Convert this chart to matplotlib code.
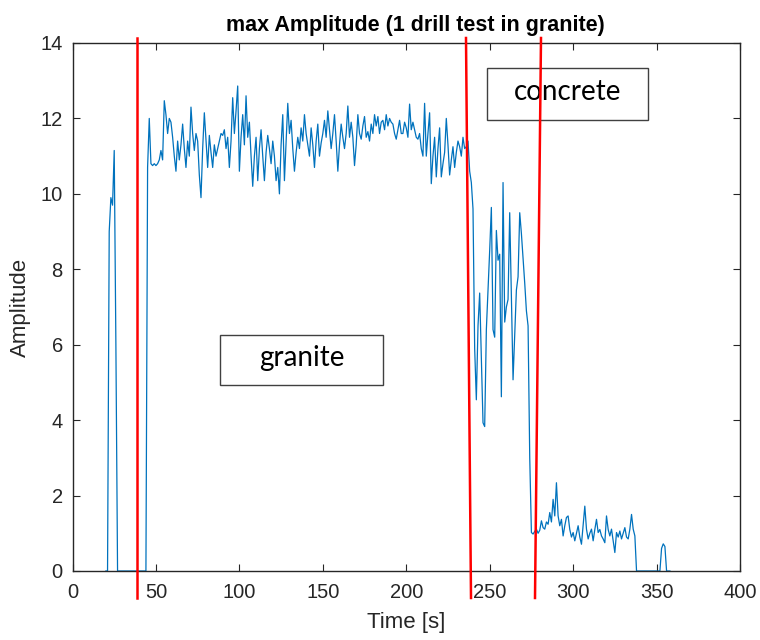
import numpy as np
import matplotlib
matplotlib.use("Agg")
import matplotlib.pyplot as plt
from matplotlib.patches import Rectangle
from matplotlib.lines import Line2D

# ---- data ----
t_start = 20
amp_spike = [0, 0, 9.0, 9.9, 9.7, 11.15, 6.0, 0]                      # t 20..27
amp_gap1 = [0] * 17                                                     # t 28..44
amp_granite = [10.7, 12.0, 10.8, 10.75, 10.8, 10.75, 10.8, 10.9, 11.15, 10.9,   # 45..54
               12.47, 12.1, 11.6, 12.0, 11.9, 11.5, 11.0, 10.6, 11.4, 10.9,     # 55..64
               11.3, 11.85, 11.2, 10.7, 11.4, 11.0, 12.3, 11.6, 11.15, 11.6,    # 65..74
               11.4, 10.5, 9.9, 11.2, 12.15, 11.4, 10.7, 11.55, 11.1, 10.7,     # 75..84
               11.3, 11.0, 11.2, 11.4, 11.6, 11.55, 11.7, 11.2, 11.5, 10.7,     # 85..94
               11.4, 12.55, 11.6, 12.2, 12.86, 10.6, 11.5, 12.1, 11.3, 12.6,    # 95..104
               11.5, 11.9, 11.0, 10.2, 11.0, 11.5, 10.35, 11.2, 11.7, 11.0,     # 105..114
               10.35, 11.1, 11.55, 11.2, 10.8, 11.4, 11.0, 10.35, 10.7, 10.0,   # 115..124
               11.3, 12.1, 10.35, 11.4, 12.4, 11.6, 11.95, 11.2, 10.6, 11.1,    # 125..134
               11.5, 11.2, 11.75, 11.4, 12.1, 11.6, 11.3, 11.0, 11.75, 11.3,    # 135..144
               10.7, 11.4, 11.85, 11.0, 11.35, 11.6, 11.95, 11.5, 12.2, 11.7,   # 145..154
               11.2, 11.6, 12.1, 11.4, 10.6, 11.3, 11.85, 11.5, 11.2, 11.6,     # 155..164
               12.33, 11.5, 11.9, 11.5, 10.75, 11.3, 12.1, 11.6, 11.45, 11.8,   # 165..174
               12.05, 11.5, 11.65, 11.4, 11.85, 11.6, 12.1, 11.8, 12.05, 11.6,  # 175..184
               11.9, 11.95, 11.7, 12.1, 11.8, 12.0, 11.9, 11.85, 11.6, 11.45,   # 185..194
               11.7, 11.95, 11.6, 11.6, 11.9, 11.75, 11.5, 12.38, 11.7, 11.9,   # 195..204
               11.7, 11.5, 11.45, 11.6, 11.2, 11.0, 12.4, 11.0, 11.6, 12.15,    # 205..214
               10.27, 11.0, 11.5, 10.45, 11.2, 11.75, 10.45, 10.8, 11.1, 12.0,  # 215..224
               11.3, 10.5, 10.9, 11.25, 10.7, 11.1, 11.4, 11.25, 11.0, 11.5,    # 225..234
               11.2, 11.25, 11.4, 10.6, 10.3, 9.6]                              # 235..240
amp_transition = [5.9, 4.54, 6.5, 7.37, 5.7, 3.93, 3.83, 6.4, 7.45, 8.5,        # 241..250
                  9.64, 6.4, 6.2, 9.03, 8.24, 8.4, 4.62, 10.3, 6.6, 7.0,        # 251..260
                  7.2, 9.5, 7.3, 5.07, 6.3, 7.45, 7.8, 9.5, 8.95, 8.3,          # 261..270
                  7.63, 6.9, 6.5, 3.0]                                          # 271..274
amp_concrete = [1.02, 0.98, 1.05, 1.11, 1.0, 1.08, 1.33, 1.15, 1.11, 1.3,       # 275..284
                1.24, 1.55, 1.3, 1.9, 1.46, 2.34, 1.46, 1.2, 1.37, 0.93,        # 285..294
                1.2, 1.42, 1.46, 1.1, 0.9, 1.02, 0.8, 1.0, 1.2, 0.9,            # 295..304
                0.71, 1.2, 1.72, 1.11, 0.85, 1.0, 1.11, 0.8, 1.1, 1.37,         # 305..314
                1.02, 1.1, 0.93, 0.85, 0.75, 1.46, 1.1, 0.93, 1.11, 0.8,        # 315..324
                0.49, 1.02, 0.9, 1.06, 0.85, 1.0, 1.15, 0.9, 0.85, 1.11,        # 325..334
                1.5, 1.11, 0.93]                                                # 335..337
amp_tail = [0] * 15 + [0.6, 0.72, 0.65, 0, 0, 0]                               # 338..358

amplitude = amp_spike + amp_gap1 + amp_granite + amp_transition + amp_concrete + amp_tail
time = t_start + np.arange(len(amplitude))

title = "max Amplitude (1 drill test in granite)"
xlabel = "Time [s]"
ylabel = "Amplitude"
xticks = [0, 50, 100, 150, 200, 250, 300, 350, 400]
yticks = [0, 2, 4, 6, 8, 10, 12, 14]
labels_boxes = ["granite", "concrete"]

# ---- figure ----
fig = plt.figure(figsize=(7.6, 6.4), dpi=100)
fig.patch.set_facecolor("white")
ax = fig.add_axes([72.5 / 760, 1 - 571 / 640, 667.5 / 760, 528 / 640])

ax.plot(time, amplitude, color="#0072BD", lw=0.9, zorder=2)

ax.set_xlim(0, 400)
ax.set_ylim(0, 14)
ax.set_xticks(xticks)
ax.set_yticks(yticks)

axcol = (0.15, 0.15, 0.15)
for s in ax.spines.values():
    s.set_color(axcol)
    s.set_linewidth(1.0)
    s.set_zorder(3)
ax.tick_params(direction="in", top=True, right=True, length=5, width=0.8,
               colors=axcol, labelsize=14.5)
ax.tick_params(axis="x", pad=9)
ax.tick_params(axis="y", pad=7)
for lab in ax.get_xticklabels() + ax.get_yticklabels():
    lab.set_fontfamily("Liberation Sans")
    lab.set_color(axcol)

ax.set_title(title, fontsize=15.5, fontweight="bold", family="Liberation Sans",
             color="black", pad=9, x=0.513)
ax.set_xlabel(xlabel, fontsize=16, family="Liberation Sans", color=axcol, labelpad=7)
ax.set_ylabel(ylabel, fontsize=16, family="Liberation Sans", color=axcol, labelpad=7)

# ---- annotation boxes (axes fraction) ----
box_specs = [(0.2216, 0.3528, 0.2440, 0.0944), (0.6213, 0.8547, 0.2410, 0.0981)]
for text, (bx, by, bw, bh) in zip(labels_boxes, box_specs):
    ax.add_patch(Rectangle((bx, by), bw, bh, transform=ax.transAxes,
                           facecolor="white", edgecolor="#404040", lw=1.0, zorder=4))
    ax.text(bx + bw / 2, by + bh / 2 + 0.003, text, transform=ax.transAxes,
            ha="center", va="center", fontsize=20, family="Lato", color="black", zorder=5)

# ---- hand-drawn red boundary lines (figure pixels) ----
red_lines = [((137, 38), (137, 598)), ((466, 38), (471, 598)), ((541, 38), (535, 598))]
for (x0, y0), (x1, y1) in red_lines:
    fig.add_artist(Line2D([x0 / 760, x1 / 760], [1 - y0 / 640, 1 - y1 / 640],
                          transform=fig.transFigure, color="#FF0000", lw=1.8, zorder=10))

fig.savefig("out.png", dpi=100)
